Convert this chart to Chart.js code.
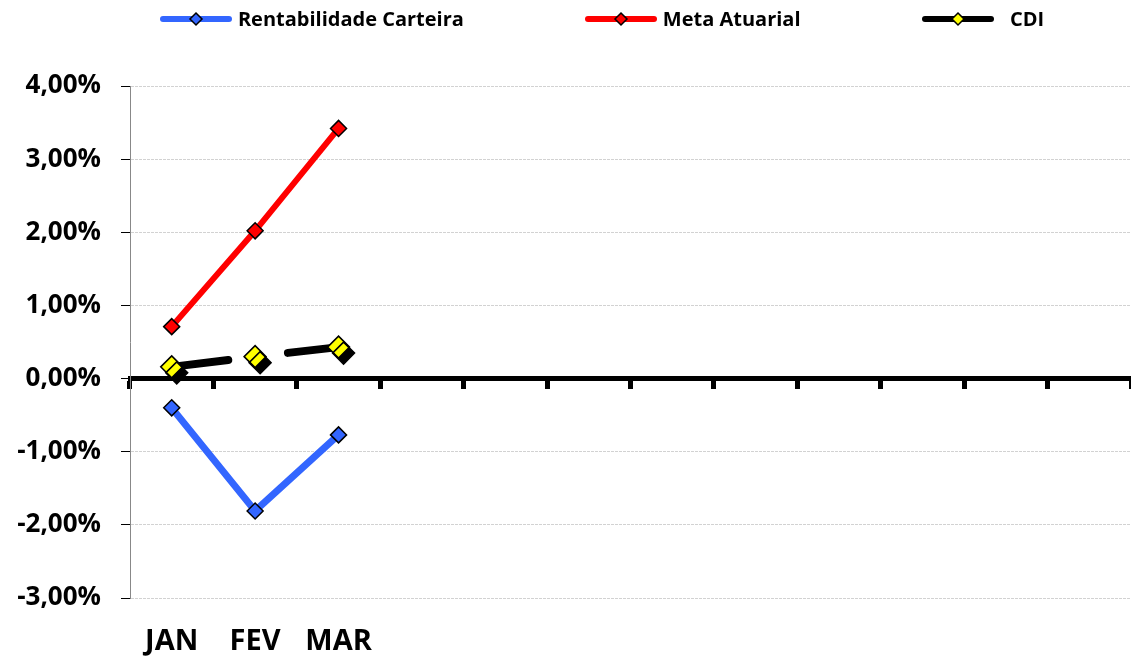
<!DOCTYPE html>
<html>
<head>
<meta charset="utf-8">
<script src="https://cdn.jsdelivr.net/npm/chart.js@4"></script>
<style>
  html, body { margin: 0; padding: 0; background: #fff; overflow: hidden; }
  #wrap { position: relative; width: 1131px; height: 657px; }
  #chart { display: block; }
  #legend {
    position: absolute; top: 5px; left: 72px; right: 0;
    display: flex; justify-content: center; gap: 120px;
    font: bold 20px "Open Sans", sans-serif; color: #000;
  }
  .item { display: flex; align-items: center; gap: 5px; }
</style>
</head>
<body>
<div id="wrap">
  <canvas id="chart" width="1131" height="657"></canvas>
  <div id="legend"></div>
</div>
<script>
const categories = ['JAN', 'FEV', 'MAR', '', '', '', '', '', '', '', '', ''];
const rentabilidade = [-0.40, -1.81, -0.77];
const metaAtuarial = [0.71, 2.02, 3.42];
const cdi = [0.16, 0.30, 0.43];
const yMin = -3, yMax = 4, yStep = 1;

const pct = v => v.toFixed(2).replace('.', ',') + '%';

// black drop shadow under the CDI markers only (not the line), like the Excel original
const cdiShadow = {
  id: 'cdiShadow',
  beforeDatasetDraw(chart, args) {
    if (args.index !== 2) return;
    const line = args.meta.dataset;
    if (line && !line._noShadow) {
      const orig = line.draw.bind(line);
      line.draw = (ctx, ...rest) => {
        ctx.save();
        ctx.shadowColor = 'rgba(0,0,0,0)';
        orig(ctx, ...rest);
        ctx.restore();
      };
      line._noShadow = true;
    }
    const ctx = chart.ctx;
    ctx.save();
    ctx.shadowColor = '#000';
    ctx.shadowOffsetX = 5;
    ctx.shadowOffsetY = 6;
    ctx.shadowBlur = 0;
  },
  afterDatasetDraw(chart, args) {
    if (args.index === 2) chart.ctx.restore();
  }
};

const datasets = [
  {
    label: 'Rentabilidade Carteira',
    data: rentabilidade,
    borderColor: '#3366ff',
    borderWidth: 7,
    pointStyle: 'rectRot',
    pointRadius: 8,
    pointBackgroundColor: '#3366ff',
    pointBorderColor: '#000',
    pointBorderWidth: 1.5
  },
  {
    label: 'Meta Atuarial',
    data: metaAtuarial,
    borderColor: '#ff0000',
    borderWidth: 6,
    pointStyle: 'rectRot',
    pointRadius: 8,
    pointBackgroundColor: '#ff0000',
    pointBorderColor: '#000',
    pointBorderWidth: 1.5
  },
  {
    label: 'CDI',
    data: cdi,
    borderColor: '#000',
    borderWidth: 8,
    pointStyle: 'rectRot',
    pointRadius: 11,
    pointBackgroundColor: '#ffff00',
    pointBorderColor: '#000',
    pointBorderWidth: 1.5,
    // the original line is broken around the FEV marker
    segment: {
      borderDash: c => c.p0DataIndex === 0 ? [57, 300] : [300, 33],
      borderDashOffset: c => c.p0DataIndex === 0 ? 0 : 300
    }
  }
];

const chart = new Chart(document.getElementById('chart'), {
  type: 'line',
  data: { labels: categories, datasets: datasets },
  plugins: [cdiShadow],
  options: {
    responsive: false,
    animation: false,
    layout: { autoPadding: false, padding: { top: 86, left: 0, right: 0, bottom: 0 } },
    plugins: {
      legend: { display: false },
      tooltip: { enabled: false }
    },
    elements: { line: { tension: 0, borderCapStyle: 'round' } },
    scales: {
      x: {
        position: 'bottom',
        offset: true,
        grid: { display: false },
        border: { display: false },
        ticks: {
          color: '#000',
          padding: 18,
          maxRotation: 0,
          autoSkip: false,
          font: { family: 'Open Sans', weight: 'bold', size: 29 }
        },
        afterFit(scale) { scale.height = 59; }
      },
      x0: {
        type: 'category',
        labels: categories,
        position: { y: 0 },
        offset: true,
        grid: {
          offset: true,
          drawOnChartArea: false,
          drawTicks: true,
          tickLength: 8,
          tickWidth: 5,
          tickColor: '#000'
        },
        border: { color: '#000', width: 5 },
        ticks: { display: false }
      },
      y: {
        min: yMin,
        max: yMax,
        ticks: {
          stepSize: yStep,
          color: '#000',
          padding: 20,
          callback: v => pct(v),
          font: { family: 'Open Sans', weight: 'bold', size: 26 }
        },
        grid: {
          color: '#d2d2d2',
          lineWidth: 1,
          tickColor: '#000',
          tickLength: 9,
          tickBorderDash: []
        },
        border: { color: '#888', width: 1, dash: [3, 1] },
        afterFit(scale) { scale.width = 130; }
      }
    }
  }
});

// legend: line + diamond marker, built from the datasets
const legend = document.getElementById('legend');
datasets.forEach(ds => {
  const item = document.createElement('div');
  item.className = 'item';
  const c = document.createElement('canvas');
  c.width = 74; c.height = 16;
  const g = c.getContext('2d');
  g.strokeStyle = ds.borderColor;
  g.lineWidth = 6;
  g.lineCap = 'round';
  g.beginPath(); g.moveTo(4, 8); g.lineTo(70, 8); g.stroke();
  g.fillStyle = ds.pointBackgroundColor;
  g.strokeStyle = '#000';
  g.lineWidth = 1.5;
  g.beginPath(); g.moveTo(37, 2); g.lineTo(43, 8); g.lineTo(37, 14); g.lineTo(31, 8); g.closePath();
  g.fill(); g.stroke();
  const t = document.createElement('span');
  t.textContent = (ds.label === 'CDI' ? '\u00a0\u00a0' : '') + ds.label;
  item.appendChild(c);
  item.appendChild(t);
  legend.appendChild(item);
});
</script>
</body>
</html>
